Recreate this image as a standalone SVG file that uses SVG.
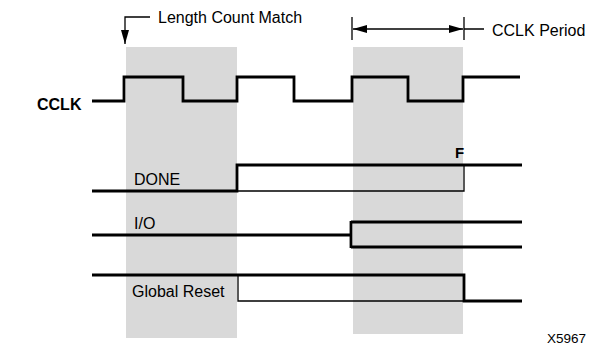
<svg xmlns="http://www.w3.org/2000/svg" width="589" height="350" viewBox="0 0 589 350">
<style>
text{font-family:"Liberation Sans",Arial,sans-serif;font-size:16px;fill:#000}
.b{font-weight:bold}
.sig{fill:none;stroke:#000;stroke-width:2.8;stroke-linejoin:miter;stroke-linecap:butt}
.thin{fill:none;stroke:#000;stroke-width:1.3}
.shade{fill:#d9d9d9}
</style>
<defs>
<marker id="ah" viewBox="0 0 14 8" refX="14" refY="4" markerWidth="14" markerHeight="8" markerUnits="userSpaceOnUse" orient="auto">
<path d="M0,0 L14,4 L0,8 z" fill="#000"/>
</marker>
</defs>
<rect width="589" height="350" fill="#fff"/>
<g id="shading">
<rect class="shade" x="126" y="47" width="111" height="291"/>
<rect class="shade" x="353" y="47" width="110" height="287"/>
</g>
<g id="connectors">
<path class="thin" d="M150,17 H125 V44" marker-end="url(#ah)"/>
<path class="thin" d="M352,17 V40 M464,17 V40 M464,29 H484"/>
<path class="thin" d="M400,29 H353" marker-end="url(#ah)"/>
<path class="thin" d="M400,29 H463" marker-end="url(#ah)"/>
</g>
<g id="cclk">
<path class="sig" d="M92,101 H124 V77 H183 V101 H237 V77 H294 V101 H352 V77 H408 V101 H463 V77 H520"/>
</g>
<g id="done">
<path class="sig" d="M92,191 H237 V165 H522"/>
<path class="thin" d="M237,191 H464 V165"/>
</g>
<g id="io">
<path class="sig" d="M92,235 H351 M351,221 V248 M351,222 H522 M351,247 H522"/>
</g>
<g id="reset">
<path class="sig" d="M92,275 H464 V301 H522"/>
<path class="thin" d="M238,275 V301 H464"/>
</g>
<g id="labels">
<text x="158" y="23">Length Count Match</text>
<text x="492" y="36">CCLK Period</text>
<text class="b" x="37" y="110" style="font-size:16px">CCLK</text>
<text x="134" y="185">DONE</text>
<text class="b" x="455" y="158" style="font-size:15px">F</text>
<text x="134" y="229">I/O</text>
<text x="132" y="297">Global Reset</text>
<text x="547" y="343" style="font-size:13.5px">X5967</text>
</g>
</svg>
